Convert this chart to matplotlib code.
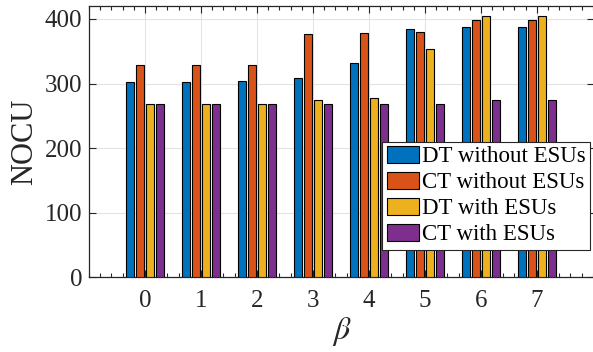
import numpy as np
import matplotlib
matplotlib.use("Agg")
import matplotlib.pyplot as plt
from matplotlib.ticker import MultipleLocator

plt.rcParams["font.family"] = ["Liberation Serif", "DejaVu Serif"]
plt.rcParams["mathtext.fontset"] = "stix"

# NOCU for each beta value
beta = [0, 1, 2, 3, 4, 5, 6, 7]
dt_without = [303, 303, 304, 308, 332, 384, 388, 388]
ct_without = [328, 328, 329, 377, 378, 380, 398, 398]
dt_with = [269, 269, 269, 275, 277, 354, 405, 405]
ct_with = [269, 269, 269, 269, 269, 268, 274, 274]

series = [
    ("DT without ESUs", dt_without, "#0072BD"),
    ("CT without ESUs", ct_without, "#D95319"),
    ("DT with ESUs", dt_with, "#EDB120"),
    ("CT with ESUs", ct_with, "#7E2F8E"),
]

fig = plt.figure(figsize=(5.93, 3.52), dpi=100)
ax = fig.add_axes([89 / 593, 1 - 277.3 / 352, 505 / 593, 271.3 / 352])

x = np.arange(len(beta))
pitch = 0.179
width = 0.152
for i, (name, vals, col) in enumerate(series):
    ax.bar(x + (i - 1.5) * pitch, vals, width, color=col, edgecolor="black",
           linewidth=0.8, label=name, zorder=3)

ax.set_xlim(-1, 8.02)
ax.set_ylim(0, 420)
ax.set_xticks(x)
ax.set_xticklabels([str(b) for b in beta])
ax.set_yticks([0, 100, 200, 300, 400])
ax.xaxis.set_minor_locator(MultipleLocator(0.2))
ax.grid(True, which="major", color="#e3e3e3", linewidth=0.8, zorder=0)
ax.tick_params(which="both", direction="in", top=True, right=True,
               labelsize=18, colors="#262626", width=0.8)
ax.tick_params(which="major", length=5)
ax.tick_params(axis="x", which="major", pad=9)
ax.tick_params(axis="y", which="major", pad=5)
ax.tick_params(which="minor", length=3)
for s in ax.spines.values():
    s.set_color("#262626")
    s.set_linewidth(0.9)

ax.set_ylabel("NOCU", fontsize=22, color="#262626", labelpad=4)
ax.set_xlabel(r"$\beta$", fontsize=23, color="#262626", labelpad=2)

leg = ax.legend(loc="upper left", bbox_to_anchor=(382 / 593, 1 - 141.5 / 352),
                bbox_transform=fig.transFigure, fontsize=16.5, frameon=True,
                fancybox=False, edgecolor="#262626", framealpha=1,
                borderpad=0.2, labelspacing=0.2, handlelength=1.4,
                handleheight=0.75, handletextpad=0.15, borderaxespad=0)
leg.get_frame().set_linewidth(0.8)
leg.set_zorder(5)

fig.savefig("out.png", dpi=100)
